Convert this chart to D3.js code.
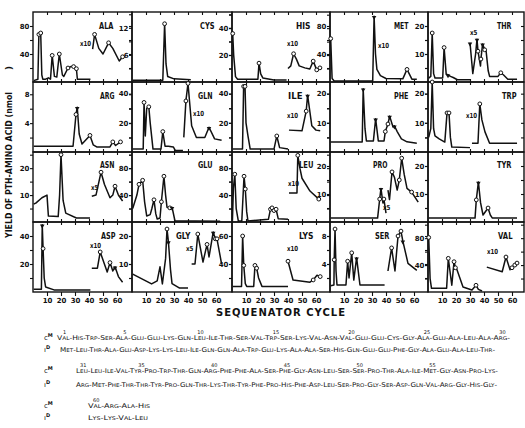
<!DOCTYPE html>
<html>
<head>
<meta charset="utf-8">
<script src="https://cdn.jsdelivr.net/npm/d3@7"></script>
<style>
  body { margin: 0; background: #fff; }
  svg { display: block; }
  text { font-family: "DejaVu Sans", sans-serif; fill: #111; }
</style>
</head>
<body>
<div id="chart"></div>
<script>
// panels, row by row
const names = ["ALA","CYS","HIS","MET","THR", "ARG","GLN","ILE","PHE","TRP",
               "ASN","GLU","LEU","PRO","TYR", "ASP","GLY","LYS","SER","VAL"];
const yMin = [0,0,0,0,0, 0,0,0,0,0, 0,0,0,0,0, 0,0,20,0,0];
const yMax = [100,15.5,52,100,25, 9.7,48,48,24,24, 26,104,104,25,25, 50,25,70,10,104];
const yStep = [20,3,10,20,5, 2,10,10,5,5, 5,20,20,5,5, 10,5,10,2,20];
const yLabels = [[80,40],[12,6],[40,20],[80,40],[20,10],
                 [8,4],[40,20],[40,20],[20,10],[20,10],
                 [20,10],[80,40],[80,40],[20,10],[20,10],
                 [40,20],[20,10],[60,40],[8,4],[80,40]];
const gains = ["x10","","x10","x10","x5", "","x10","x10","","x10",
               "x5","","x10","x5","", "x10","x5","x10","","x10"];
const xTicks = [10,20,30,40,50,60];

// [cycle, nmol, mark]  mark: o = open circle, a = arrow
const ala = [[0.5,2],[3.5,4],[4.2,68,"o"],[5.5,70,"o"],[6.3,10],[7,4],[9,4],[11,6],[12.5,4],[13.7,38,"o"],[15.3,8],[17,7],[18.8,40,"o"],[21,10],[22,8],[25,20,"o"],[27,22],[29,22,"o"],[31,19,"o"],[31.7,4],[41,4]];
const alaX = [[42.6,47],[44,68,"o"],[47,48],[50,40],[54,56,"o"],[57,48],[61.6,30],[64,36,"o"]];
const cys = [[0.5,0.4],[22,0.4],[23.3,12.9,"o"],[24.3,4],[25.5,1.2],[30,0.7],[42,0.5]];
const his = [[0.5,36,"o"],[1.2,20],[2.5,4],[4,2],[18.5,2],[19.3,14,"o"],[20.5,6],[22,3],[30,1.5],[39,1.5]];
const hisX = [[40,10],[42,12],[44,21,"o"],[46,17],[48,12],[52,10.5],[55.6,9.6],[58,15.5,"o"],[60.5,9,"o"],[62.8,10.5,"o"]];
const met = [[0.5,62,"o"],[1.5,5],[3,1.5],[30.5,1.5]];
const metX = [[30.5,1.5],[31.5,94,"a"],[32.5,40],[33.5,18],[36,9],[40,5],[52,4.5],[55,18,"o"],[58.5,4],[62,4]];
const thr = [[0.5,1.4],[2,2],[3,17.5,"o"],[4,3],[5,1.4],[10.5,1.4],[11.5,12.3,"o"],[13,2.8],[14.3,2.6,"a"],[16,2],[18,1.6],[21,0.8],[30,0.8]];
const thrX = [[30,14,"a"],[32,3],[34,10],[35,15.3,"a"],[35.7,11,"o"],[37.5,5.7],[37.8,8.2,"o"],[39,13.6,"a"],[40.5,11.5,"o"],[41.5,11],[43,4],[44,2],[50,2],[52,3.3,"o"],[54,2.5],[57,1],[63.6,1]];
const arg = [[0.5,0.8],[28.6,0.8],[30.7,5.2,"o"],[31.6,6.2,"a"],[33,2.5],[35,1.1],[40.7,2.3,"o"],[43,1],[45.5,0.7],[55,0.7],[57,1.4,"o"],[59,0.9],[62.5,1.4,"o"]];
const gln = [[0.5,2],[8,2],[8.6,34,"o"],[9.5,11],[10.5,30],[12,31,"o"],[13,20],[15,2],[20.7,2],[22,14,"o"],[23.6,4],[26,4],[29.5,3.5],[31,1],[36.4,1]];
const glnX = [[37,10],[38.5,35,"o"],[40,47,"o"],[42.6,18],[46,10],[52,10],[55,17,"a"],[59,9],[64,8]];
const ile = [[0.5,2],[7.5,2],[8.3,45,"o"],[9.3,45,"o"],[10,20],[11.4,11],[13,2],[30,2],[32,11,"o"],[34,3],[40,2]];
const ileX = [[40.7,15],[50,14.5],[53,28,"o"],[54,39,"a"],[57,18],[60,15],[63,14.5]];
const phe = [[0.5,3.4],[23,3.4],[23.7,21.7,"a"],[25,8],[26,3.8],[31,3.8],[32.6,11.4,"a"],[34.5,3.8],[38.6,3.8],[39.5,7,"o"],[41.4,9.6,"o"],[42.6,12.3,"a"],[45,8.6],[46,9,"a"],[48,7],[51,4.5],[55,3.5],[62,3]];
const trp = [[0.5,5],[2,8],[3,24,"o"],[4,8],[5,5.5],[8,4.5],[12,3.4],[13.6,13.4,"o"],[15,13.4,"o"],[16,5],[17,1.7],[30,1.5]];
const trpX = [[31.4,3],[35.7,3],[37,16.5,"o"],[38.5,11],[40.7,6.9],[44,3],[63.6,3]];
const asn = [[0.5,6.7],[2,7],[6.4,9],[10,10],[11,2.2],[18,2],[19,10],[20,25,"o"],[21.5,8],[23.4,3.3],[31,1.5],[40.7,1.5]];
const asnX = [[42,9.6],[45,10],[48.6,18.5,"o"],[51,14],[55,9],[57,10],[58.6,13.3,"o"],[61,10],[64,7.8]];
const glu = [[0.5,20],[3.5,40],[5,56,"o"],[7.6,62,"o"],[9,30],[10.5,9],[13,11],[14.2,20],[15.7,33,"o"],[17,12],[18,4.4],[20,6],[21,30,"o"],[22.8,68,"o"],[24,40],[25,22],[27,21,"o"],[28.6,22,"a"],[30.7,1.5],[45,1.5],[63,1]];
const leu = [[0.3,2],[1,50],[2,71,"o"],[3,20],[4.5,1.5],[7,1.5],[8.6,68,"o"],[9.5,49,"o"],[10.5,15],[11.4,1.5],[26,4],[27.5,19,"o"],[28.6,21,"o"],[30,17,"o"],[31.5,19,"o"],[33,5],[40,4]];
const leuX = [[40.7,43],[46.4,43],[47,99,"o"],[48.5,80],[50,65],[55.7,46],[62,34,"o"]];
const pro = [[0.5,1.4],[34,1.4],[35.5,8.2,"o"],[36.4,12,"a"],[37.8,6.8],[38.5,8.2,"o"],[40,3.2]];
const proX = [[41.4,11.4],[42.5,8],[44.3,17.9,"o"],[46,16],[48,11.4],[49.5,15,"o"],[51.2,22.8,"o"],[53,17],[55,12],[58.3,10.7,"o"],[63,7.1]];
const tyr = [[0.5,1.4],[33.6,1.4],[34.5,7.9,"o"],[36,14.3,"a"],[37.5,7],[39.3,2.5],[42.9,5,"o"],[44.5,2.5],[46,1.4],[63.6,1.4]];
const asp = [[0.5,2],[6,2],[6.6,48,"a"],[7.2,31,"o"],[8,10],[9,3.6],[15,1.5],[41,1.5]];
const aspX = [[42,17],[46,17],[48,28.6,"o"],[51,20],[53,14.3],[55,21,"o"],[57,15],[58.6,18,"a"],[61,11],[64,7]];
const gly = [[0.5,6.4],[14,2.9],[18,4],[20,9],[21.7,2.9],[24,12],[25,22.5,"o"],[26,18,"a"],[27.5,8],[28.6,3],[34,1.4],[40,1.4]];
const glyX = [[42.6,10],[45,10],[47,20.7,"o"],[50.7,10.7],[53.6,17,"o"],[55,12.5],[58,21.4,"a"],[59.5,19,"o"],[60.7,19,"o"],[64,10]];
const lys = [[0.5,24],[6.8,24],[7.6,60,"o"],[8.4,39,"o"],[9.5,26],[10.5,24],[15.5,24],[16.4,39,"o"],[17.6,37,"o"],[19,30],[21.4,24],[40,24]];
const lysX = [[40,42,"o"],[43.6,28.6],[55.7,27],[58,28.6,"o"],[60.7,32],[63,31,"o"]];
const ser = [[0.5,0.9],[2.8,1],[3,4.6,"o"],[3.6,9,"o"],[4.3,3],[5,1],[11.4,1],[12.6,4.4,"o"],[13.6,2],[15.5,5.6,"o"],[17,1.7],[19,4.9,"a"],[21.4,1],[39,1]];
const serX = [[41.4,3],[44,6.3,"o"],[46.4,3],[48.6,8,"o"],[50.7,8.7,"o"],[52,7.3,"a"],[55.7,4.1],[62,3.1]];
const val = [[0.5,81,"o"],[1.5,20],[2.5,5.5],[13.3,5.5],[14.5,50,"o"],[17,10],[18.6,45,"o"],[19.6,36,"o"],[20.7,33],[25,7.4],[31.4,3],[34.3,10,"o"],[36,4],[38.6,1.5]];
const valX = [[42,37],[53,30],[55.7,52,"o"],[58.6,33],[60,36,"o"],[62,40,"o"],[63.6,43,"o"]];

const mains = [ala,cys,his,met,thr, arg,gln,ile,phe,trp, asn,glu,leu,pro,tyr, asp,gly,lys,ser,val];
const insets = [alaX,null,hisX,metX,thrX, null,glnX,ileX,null,trpX, asnX,null,leuX,proX,null, aspX,glyX,lysX,serX,valX];

// sequences of the two chains
const chainM = ["Val","His","Trp","Ser","Ala","Glu","Glu","Lys","Gln","Leu","Ile","Thr","Ser","Val","Trp","Ser","Lys","Val","Asn","Val","Glu","Glu","Cys","Gly","Ala","Glu","Ala","Leu","Ala","Arg",
  "Leu","Leu","Ile","Val","Tyr","Pro","Trp","Thr","Gln","Arg","Phe","Phe","Ala","Ser","Phe","Gly","Asn","Leu","Ser","Ser","Pro","Thr","Ala","Ile","Met","Gly","Asn","Pro","Lys",
  "Val","Arg","Ala","His"];
const chainD = ["Met","Leu","Thr","Ala","Glu","Asp","Lys","Lys","Leu","Ile","Gln","Gln","Ala","Trp","Glu","Lys","Ala","Ala","Ser","His","Gln","Glu","Glu","Phe","Gly","Ala","Glu","Ala","Leu","Thr",
  "Arg","Met","Phe","Thr","Thr","Tyr","Pro","Gln","Thr","Lys","Thr","Tyr","Phe","Pro","His","Phe","Asp","Leu","Ser","Pro","Gly","Ser","Asp","Gln","Val","Arg","Gly","His","Gly",
  "Lys","Lys","Val","Leu"];
const lineBreaks = [0, 30, 59, 63];
const seqNumbers = [1,5,10,15,20,25,30, 31,35,40,45,50,55, 60];

// layout
const W = 525, H = 428;
const colEdges = [33,132,232,330,428,524];
const rowEdges = [12,82,152,222,292];
const nameAt = [[66,17],[68,17],[64,17],[64,17],[69,17], [67,17],[66,17],[56,17],[64,17],[74,17],
                [67,16],[66,16],[67,16],[43,16],[69,16], [68,17],[44,17],[67,17],[45,17],[70,17]];
const gainAt = [[80,46],null,[287,46],[378,48],[470,35], null,[193,116],[287,118],null,[466,118],
                [91,190],null,[288,186],[383,210],null, [90,248],[186,251],[287,251],null,[487,254]];

const svg = d3.select("#chart").append("svg").attr("width", W).attr("height", H);

names.forEach((name, i) => {
  const c = i % 5, r = Math.floor(i / 5);
  const x0 = colEdges[c], x1 = colEdges[c + 1], y0 = rowEdges[r], y1 = rowEdges[r + 1];
  const x = d3.scaleLinear().domain([0, 70]).range([x0, x0 + 98]);
  const y = d3.scaleLinear().domain([yMin[i], yMax[i]]).range([y1, y0]);
  const g = svg.append("g");
  const ticks = d3.range(yMin[i] + yStep[i], yMax[i] - 0.01, yStep[i]);

  // left axis with labels
  g.append("g").attr("transform", `translate(${x0},0)`)
    .call(d3.axisLeft(y).tickValues(ticks).tickSize(3).tickPadding(0.5)
      .tickFormat(d => yLabels[i].includes(d) ? d : ""))
    .call(a => a.select(".domain").remove());
  // right border ticks, inward
  g.append("g").attr("transform", `translate(${x1},0)`)
    .call(d3.axisRight(y).tickValues(ticks).tickSize(-3).tickFormat(""))
    .call(a => a.select(".domain").remove());
  // top ticks
  g.append("g").attr("transform", `translate(0,${y0})`)
    .call(d3.axisTop(x).tickValues(xTicks).tickSize(-3).tickFormat(""))
    .call(a => a.select(".domain").remove());
  // bottom ticks, labelled on the last row
  const bottom = r === 3
    ? d3.axisBottom(x).tickValues(xTicks).tickSize(4).tickPadding(2)
    : d3.axisBottom(x).tickValues(xTicks).tickSize(-3).tickFormat("");
  g.append("g").attr("transform", `translate(0,${y1})`)
    .call(bottom)
    .call(a => a.select(".domain").remove());

  g.selectAll(".tick line").attr("stroke", "#111").attr("stroke-width", 1.1);
  g.selectAll(".tick text").attr("font-size", 7).attr("font-weight", "bold")
    .attr("font-family", "\"DejaVu Sans Condensed\", \"DejaVu Sans\", sans-serif").attr("fill", "#111");

  g.append("rect").attr("x", x0).attr("y", y0).attr("width", x1 - x0).attr("height", y1 - y0)
    .attr("fill", "none").attr("stroke", "#111").attr("stroke-width", 1.4);

  const line = d3.line().x(d => x(d[0])).y(d => y(d[1]));
  [mains[i], insets[i]].filter(Boolean).forEach(trace => {
    g.append("path").datum(trace).attr("d", line)
      .attr("fill", "none").attr("stroke", "#111").attr("stroke-width", 1.5)
      .attr("stroke-linejoin", "round");
    const marks = trace.filter(d => d[2]);
    g.selectAll(null).data(marks.filter(d => d[2] === "o")).join("circle")
      .attr("cx", d => x(d[0])).attr("cy", d => y(d[1])).attr("r", 1.9)
      .attr("fill", "#fff").attr("stroke", "#111").attr("stroke-width", 1);
    g.selectAll(null).data(marks.filter(d => d[2] === "a")).join("path")
      .attr("d", d3.symbol(d3.symbolTriangle, 9))
      .attr("transform", d => `translate(${x(d[0])},${y(d[1]) + 1}) rotate(180)`)
      .attr("fill", "#111");
  });

  g.append("text").attr("x", x0 + nameAt[i][0]).attr("y", y0 + nameAt[i][1])
    .attr("font-size", 8.5).attr("font-weight", "bold")
    .attr("textLength", 14.5).attr("lengthAdjust", "spacingAndGlyphs").text(name);
  if (gains[i]) {
    g.append("text").attr("x", gainAt[i][0]).attr("y", gainAt[i][1])
      .attr("font-size", 7).attr("font-weight", "bold")
      .attr("textLength", gains[i].length * 3.7).attr("lengthAdjust", "spacingAndGlyphs")
      .text(gains[i]);
  }
});

// axis titles
svg.append("text").attr("transform", "translate(12,165) rotate(-90)")
  .attr("text-anchor", "middle").attr("font-size", 9.5).attr("font-weight", "bold")
  .attr("textLength", 146).attr("lengthAdjust", "spacingAndGlyphs")
  .text("YIELD OF PTH-AMINO ACID (nmol");
svg.append("text").attr("transform", "translate(12,68) rotate(-90)")
  .attr("text-anchor", "middle").attr("font-size", 9.5).attr("font-weight", "bold").text(")");
svg.append("text").attr("x", 281).attr("y", 316).attr("text-anchor", "middle")
  .attr("font-size", 10).attr("font-weight", "bold").attr("letter-spacing", 1)
  .text("SEQUENATOR CYCLE");

// sequence listing
const seqRows = [
  {chain: chainM, tag: "M", part: 0, x: 57, w: 453, y: 340},
  {chain: chainD, tag: "D", part: 0, x: 60, w: 435, y: 352},
  {chain: chainM, tag: "M", part: 1, x: 76, w: 422, y: 373},
  {chain: chainD, tag: "D", part: 1, x: 76, w: 421, y: 387},
  {chain: chainM, tag: "M", part: 2, x: 88, w: 62, y: 408},
  {chain: chainD, tag: "D", part: 2, x: 88, w: 60, y: 420}
];
seqRows.forEach(row => {
  const from = lineBreaks[row.part], to = lineBreaks[row.part + 1];
  const res = row.chain.slice(from, to);
  const txt = res.join("-") + (row.part < 2 ? "-" : "");
  svg.append("text").attr("x", row.x).attr("y", row.y)
    .attr("font-size", 6.5).attr("font-variant", "small-caps")
    .attr("textLength", row.w).attr("lengthAdjust", "spacingAndGlyphs").text(txt);
  const tag = svg.append("text").attr("x", 44).attr("y", row.y).attr("font-size", 7);
  tag.append("tspan").text(row.tag === "M" ? "c" : "ı");
  tag.append("tspan").attr("dy", -3).attr("font-size", 5).attr("font-weight", "bold").text(row.tag);
  if (row.tag === "M") {
    const step = row.w / txt.length * 4;
    seqNumbers.filter(n => n > from && n <= to).forEach(n => {
      svg.append("text").attr("x", row.x + (n - from - 0.5) * step).attr("y", row.y - 6)
        .attr("text-anchor", "middle").attr("font-size", 5).text(n);
    });
  }
});
</script>
</body>
</html>
